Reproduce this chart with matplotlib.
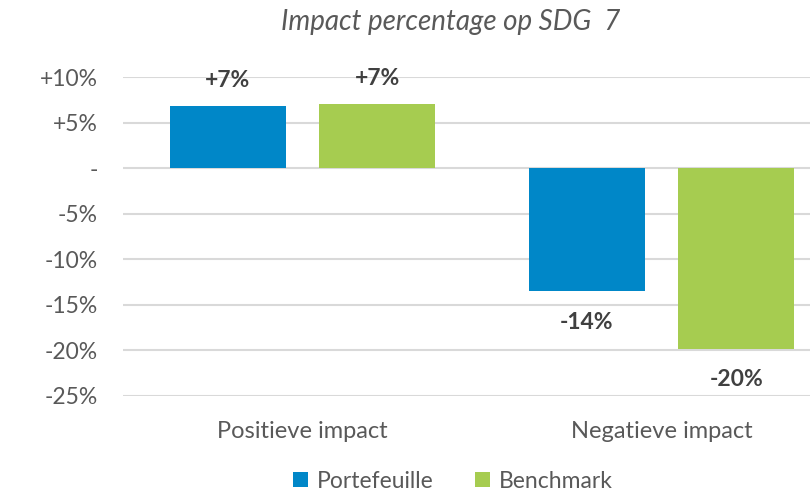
import matplotlib.pyplot as plt
import numpy as np

categories = ['Positieve impact', 'Negatieve impact']
series = ['Portefeuille', 'Benchmark']
portefeuille = [6.8, -13.5]
benchmark = [7.0, -19.8]
labels_port = ['+7%', '-14%']
labels_bench = ['+7%', '-20%']
yticks = [10, 5, 0, -5, -10, -15, -20, -25]
ytick_labels = ['+10%', '+5%', '-', '-5%', '-10%', '-15%', '-20%', '-25%']

blue = '#0087C8'
green = '#A6CC50'
text_col = '#595959'

plt.rcParams['font.family'] = ['Lato', 'DejaVu Sans']

fig = plt.figure(figsize=(8.1, 4.96), dpi=100)
ax = fig.add_axes([123 / 810, 100 / 496, 718 / 810, 319 / 496])

x = np.arange(len(categories))
w = 0.323
off = 0.208
ax.bar(x - off, portefeuille, w, color=blue, label=series[0], zorder=3)
ax.bar(x + off, benchmark, w, color=green, label=series[1], zorder=3)

for i in range(len(categories)):
    for xi, v, lab in [(x[i] - off, portefeuille[i], labels_port[i]),
                       (x[i] + off, benchmark[i], labels_bench[i])]:
        y = v + 2.85 if v >= 0 else v - 3.4
        ax.text(xi, y, lab, ha='center', va='center', fontsize=16.5,
                fontweight='bold', color='#404040')

ax.set_xlim(-0.5, 1.5)
ax.set_ylim(-25, 10)
ax.set_yticks(yticks)
ax.set_yticklabels(ytick_labels)
ax.set_xticks(x)
ax.set_xticklabels(categories)
ax.tick_params(axis='y', length=0, pad=18, labelsize=16.5, labelcolor=text_col)
ax.tick_params(axis='x', length=0, pad=18, labelsize=17, labelcolor=text_col)
ax.grid(axis='y', color='#D9D9D9', linewidth=1.5, zorder=0)
for s in ax.spines.values():
    s.set_visible(False)

fig.text(451 / 810, 1 - 22 / 496, 'Impact percentage op SDG  7', ha='center',
         va='center', fontsize=20, style='italic', color=text_col)

fig.legend(loc='center', bbox_to_anchor=(453 / 810, 1 - 481 / 496), ncol=2,
           frameon=False, fontsize=16.5, handlelength=0.65, handleheight=0.65,
           handletextpad=0.4, columnspacing=1.8, labelcolor=text_col)

fig.savefig('out.png', dpi=100)
